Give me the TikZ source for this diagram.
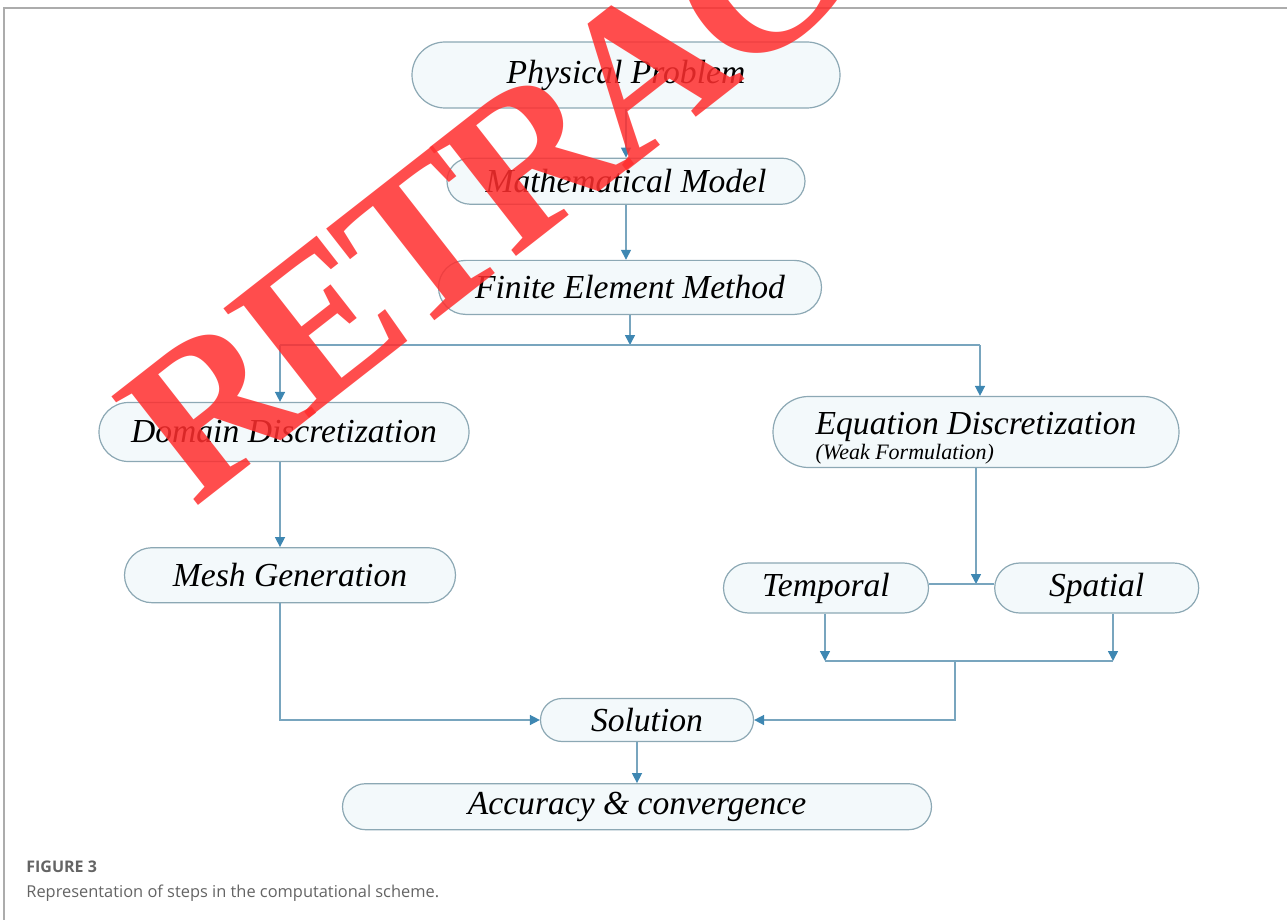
\documentclass[tikz,border=0pt]{standalone}
\usepackage{fontspec}
\setmainfont{Liberation Serif}
\newfontfamily\capfont{Open Sans}
\newfontfamily\markfont[LetterSpace=-5]{Liberation Serif}
\usetikzlibrary{arrows.meta, positioning}
\definecolor{colFill}{RGB}{243,249,251}
\definecolor{colEdge}{RGB}{140,168,180}
\definecolor{colLink}{RGB}{120,165,190}
\definecolor{colTip}{RGB}{62,135,178}
\definecolor{colStamp}{RGB}{255,46,46}
\definecolor{colFrame}{RGB}{172,172,172}
\definecolor{colCap}{RGB}{100,100,100}

\begin{document}
\begin{tikzpicture}[
  x=0.5pt, y=-0.5pt,
  pill/.style 2 args={rectangle, draw=colEdge, fill=colFill, line width=0.6pt,
                      inner sep=0pt, minimum width=#1, minimum height=#2,
                      rounded corners=#2/2, font=\fontsize{16.8}{20}\selectfont\itshape},
  link/.style={colLink, line width=0.75pt},
  arr/.style={link, -{Triangle[length=5pt, width=5pt, color=colTip]}},
  caption/.style={anchor=base west, inner sep=0pt, text=colCap},
  stamp/.style={anchor=base west, inner sep=0pt, text=colStamp, text opacity=0.85,
                font=\fontsize{106}{110}\markfont\bfseries},
]
\useasboundingbox (0,0) rectangle (1287,920);
\clip (0,0) rectangle (1287,920);

% Main column
\node[pill={214pt}{33pt}] (pp) at (626,75) {Physical Problem};
\node[pill={179pt}{23pt}, below=24.5pt of pp] (mm) {Mathematical Model};
\node[pill={191.5pt}{27pt}, below=27.5pt of mm, xshift=2pt] (fem) {Finite Element Method};

% Left branch
\node[pill={185pt}{29.5pt}] (dd) at (284,432) {Domain Discretization};
\node[pill={165.5pt}{27.5pt}, below=42.5pt of dd, xshift=3pt] (mg) {Mesh Generation};

% Right branch
\node[pill={203pt}{35.5pt}, align=left, text height=29.5pt] (ed) at (976,432)
  {Equation Discretization\\[-7.5pt]{\fontsize{11}{13}\selectfont(Weak Formulation)}};
\node[pill={102.5pt}{25pt}] (tmp) at (826,588) {Temporal};
\node[pill={102pt}{25pt}, right=32.5pt of tmp] (spa) {Spatial};

% Result
\node[pill={106.5pt}{21.5pt}] (sol) at (647,720) {Solution};
\node[pill={294.5pt}{23pt}, below=20.5pt of sol, xshift=-5pt] (acc) {Accuracy \& convergence};

% Junction points
\coordinate (sl) at (280,345);
\coordinate (sr) at (980,345);
\coordinate (tj) at (976,584);
\coordinate (jl) at (825,661);
\coordinate (jr) at (1113,661);
\coordinate (jm) at (955,661);

% Arrows: main chain
\draw[arr] (pp.south) -- (pp.south |- mm.north);
\draw[arr] (mm.south) -- (mm.south |- fem.north);
\draw[arr] (fem.south) -- (fem.south |- sl);
\draw[link] (sl) -- (sr);
\draw[arr] (sl) -- (sl |- dd.north);
\draw[arr] (sr) -- (sr |- ed.north);

% Arrows: left branch
\draw[arr] (sl |- dd.south) -- (sl |- mg.north);
\draw[arr] (sl |- mg.south) |- (sol.west);

% Arrows: right branch
\draw[arr] (ed.south) -- (tj);
\draw[link] (tmp.east |- tj) -- (spa.west |- tj);
\draw[arr] (jl |- tmp.south) -- (jl);
\draw[arr] (jr |- spa.south) -- (jr);
\draw[link] (jl) -- (jr);
\draw[arr] (jm) |- (sol.east);

% Arrows: result
\draw[arr] (acc.north |- sol.south) -- (acc.north);

% Frame and caption
\draw[colFrame, line width=0.75pt] (4,920) -- (4,8) -- (1287,8);
\node[caption, font={\fontsize{8}{10}\capfont\bfseries}] (fig) at (26,872) {FIGURE 3};
\node[caption, font={\fontsize{8.2}{10}\capfont}] (cap) at (26,897)
  {Representation of steps in the computational scheme.};

% Watermark
\node[stamp, rotate=38] (mark) at (194,509) {RETRACTED};
\end{tikzpicture}
\end{document}
